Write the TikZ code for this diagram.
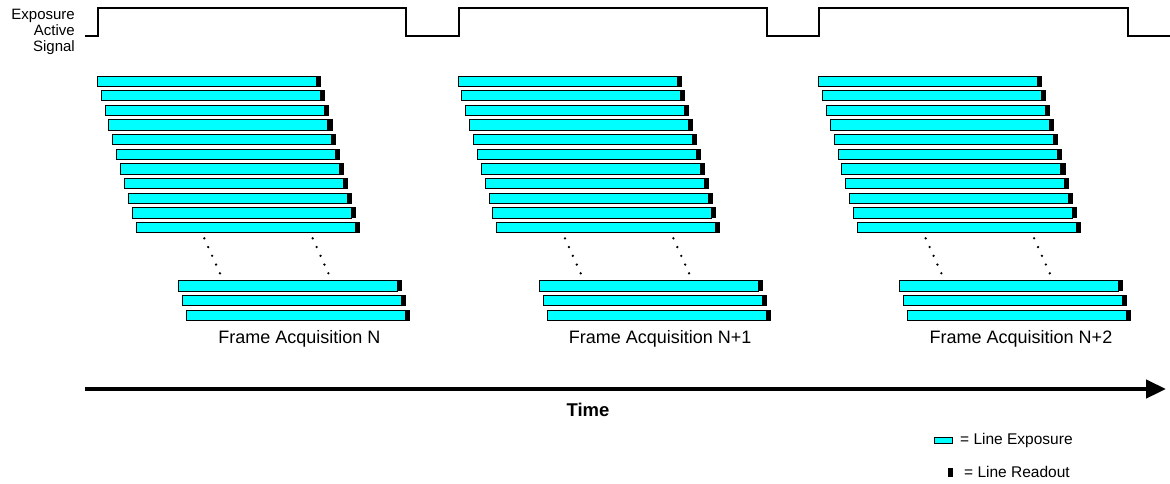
\documentclass[tikz,border=0pt]{standalone}
\usepackage{fontspec}
\setmainfont{Liberation Sans}
\usetikzlibrary{arrows.meta}
\definecolor{expcyan}{RGB}{0,255,255}
\begin{document}
\begin{tikzpicture}[x=1pt,y=-1pt,
  expbar/.style={fill=expcyan,draw=black,line width=0.9pt},
  rdbar/.style={fill=black},
  sigline/.style={line width=2pt,line join=miter,line cap=butt},
  framelabel/.style={inner sep=0pt,font=\fontsize{18}{21}\selectfont},
  timelabel/.style={inner sep=0pt,font=\fontsize{18.5}{22}\selectfont\bfseries},
  legendtext/.style={inner sep=0pt,anchor=west,font=\fontsize{15.5}{18}\selectfont},
  siglabel/.style={inner sep=0pt,anchor=east,align=right,font=\fontsize{15}{15.7}\selectfont},
  timearrow/.style={line width=4.5pt,-{Triangle[length=20pt,width=18pt]}},
  dotmark/.style={fill=black}]
\useasboundingbox (0,0) rectangle (1170,483);

% exposure active signal
\node[siglabel] (siglbl) at (75,32) {Exposure\\Active\\Signal};
\draw[sigline] (85,35.5) -- (98.3,35.5) -- (98.3,8) -- (406,8) -- (406,35.5)
  -- (458.6,35.5) -- (458.6,8) -- (766.7,8) -- (766.7,35.5)
  -- (819.3,35.5) -- (819.3,8) -- (1127.7,8) -- (1127.7,35.5) -- (1170,35.5);

% frames
\foreach \f in {0,1,2} {
  \foreach \i in {0,...,10} {
    \pgfmathsetmacro\xl{97.3+360.7*\f+3.87*\i}
    \pgfmathsetmacro\yt{76+14.63*\i}
    \draw[expbar] (\xl,\yt) rectangle ++(219,10.3);
    \fill[rdbar] (\xl+218.6,\yt-0.45) rectangle ++(5,11.2);
  }
  \foreach \i in {0,1,2} {
    \pgfmathsetmacro\xl{178.3+360.7*\f+4*\i}
    \pgfmathsetmacro\yt{280.7+14.65*\i}
    \draw[expbar] (\xl,\yt) rectangle ++(219,10.3);
    \fill[rdbar] (\xl+218.6,\yt-0.45) rectangle ++(5,11.2);
  }
  \foreach \k in {0,...,4} {
    \fill[dotmark] (204.3+360.7*\f+3.92*\k,238.3+8.75*\k) circle (1.3);
    \fill[dotmark] (312.7+360.7*\f+3.92*\k,238.3+8.75*\k) circle (1.3);
  }
}

\node[framelabel] (lblN)  at (299.5,338.5) {Frame Acquisition N};
\node[framelabel] (lblN1) at (660.2,338.5) {Frame Acquisition N+1};
\node[framelabel] (lblN2) at (1021,338.5) {Frame Acquisition N+2};

% time axis
\coordinate (tstart) at (85,389);
\coordinate (tend) at (1166,389);
\draw[timearrow] (tstart) -- (tend);
\node[timelabel] (time) at (588,410) {Time};

% legend
\node[expbar,minimum width=18pt,minimum height=6pt,inner sep=0pt] (lexpbox) at (943.5,440) {};
\node[legendtext] (lexp) at (960,440) {= Line Exposure};
\node[rdbar,minimum width=4.5pt,minimum height=9pt,inner sep=0pt] (lrdbox) at (950.5,472) {};
\node[legendtext] (lrd) at (964,472) {= Line Readout};
\end{tikzpicture}
\end{document}
